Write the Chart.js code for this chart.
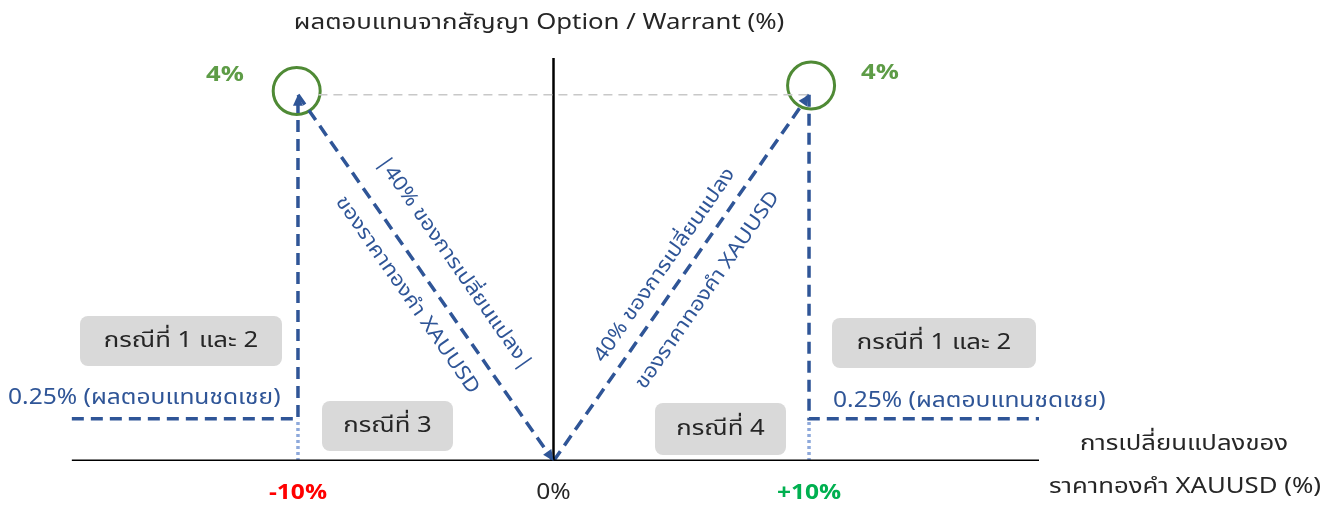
<!DOCTYPE html>
<html><head><meta charset="utf-8">
<script src="https://cdn.jsdelivr.net/npm/chart.js@4/dist/chart.umd.min.js"></script>
<style>html,body{margin:0;padding:0;background:#fff;overflow:hidden}#wrap{width:1344px;height:507px}</style>
</head><body><div id="wrap"><canvas id="c" width="1344" height="507"></canvas></div>
<script>
// ---- data ----
const xTicks = [-10, 0, 10];
const xTickLabels = ['-10%', '0%', '+10%'];
const xTickColors = ['#FF0000', '#262626', '#00B050'];
const capPct = 4;                 // maximum return (4%)
const compLevel = 0.46;           // compensation level as drawn (labelled 0.25%)
const xAxisLine = [{x: -18.85, y: 0}, {x: 19.1, y: 0}];
const yAxisLine = [{x: 0, y: 0}, {x: 0, y: 4.4}];
const capRefLine = [{x: -9.2, y: capPct}, {x: 10, y: capPct}];
const leftPayoff = [{x: -18.85, y: compLevel}, {x: -10, y: compLevel}, {x: -10, y: capPct}];
const leftSlope = [{x: -10, y: capPct}, {x: 0, y: 0}];
const rightSlope = [{x: 0, y: 0}, {x: 10, y: capPct}];
const rightPayoff = [{x: 10, y: capPct}, {x: 10, y: compLevel}, {x: 19.0, y: compLevel}];
const leftDotted = [{x: -10, y: 0}, {x: -10, y: compLevel}];
const rightDotted = [{x: 10, y: 0}, {x: 10, y: compLevel}];
const capMarks = [{x: -10.05, y: 4.04}, {x: 10.08, y: 4.1}];
const capLabels = ['4%', '4%'];
const caseLabels = ['กรณีที่ 1 และ 2', 'กรณีที่ 3', 'กรณีที่ 4', 'กรณีที่ 1 และ 2'];
const compLabel = '0.25% (ผลตอบแทนชดเชย)';
const slopeLine1 = ['|40% ของการเปลี่ยนแปลง|', '40% ของการเปลี่ยนแปลง'];
const slopeLine2 = 'ของราคาทองคำ XAUUSD';
const titleText = 'ผลตอบแทนจากสัญญา Option / Warrant (%)';
const xTitle = ['การเปลี่ยนแปลงของ', 'ราคาทองคำ XAUUSD (%)'];

const FONT = "Tahoma, 'Noto Sans Thai', 'Leelawadee UI', 'Noto Sans', 'DejaVu Sans', sans-serif";
const BLUE = '#2F5597';
const DARK = '#262626';
const SX = 1.17; // horizontal stretch to mimic the wider original typeface

function line(data, color, width, dash) {
  return {data, showLine: true, borderColor: color, borderWidth: width,
    borderDash: dash || [], pointRadius: 0, fill: false, tension: 0};
}

const annotate = {
  id: 'annotate',
  afterDatasetsDraw(chart) {
    const ctx = chart.ctx, xs = chart.scales.x, ys = chart.scales.y;
    const px = v => xs.getPixelForValue(v), py = v => ys.getPixelForValue(v);
    ctx.save();
    function arrow(from, to) {
      const x1 = px(from.x), y1 = py(from.y), x2 = px(to.x), y2 = py(to.y);
      const a = Math.atan2(y2 - y1, x2 - x1), L = 11, W = 5;
      ctx.beginPath();
      ctx.moveTo(x2, y2);
      ctx.lineTo(x2 - L * Math.cos(a) + W * Math.sin(a), y2 - L * Math.sin(a) - W * Math.cos(a));
      ctx.lineTo(x2 - L * Math.cos(a) - W * Math.sin(a), y2 - L * Math.sin(a) + W * Math.cos(a));
      ctx.closePath();
      ctx.fillStyle = BLUE; ctx.fill();
    }
    arrow(leftPayoff[1], leftPayoff[2]);
    arrow(leftSlope[0], leftSlope[1]);
    arrow(rightSlope[0], rightSlope[1]);

    function txt(text, x, y, font, color, align, ang, sx) {
      ctx.save();
      ctx.translate(x, y);
      if (ang) ctx.rotate(ang);
      ctx.scale(sx || SX, 1);
      ctx.font = font + ' ' + FONT;
      ctx.fillStyle = color;
      ctx.textAlign = align || 'center';
      ctx.textBaseline = 'middle';
      ctx.fillText(text, 0, 0);
      ctx.restore();
    }

    txt(titleText, 539, 25, '22px', DARK);
    txt(capLabels[0], 225, 77, 'bold 22px', '#5E9C47');
    txt(capLabels[1], 880, 75, 'bold 22px', '#5E9C47');

    xTicks.forEach((t, i) => {
      txt(xTickLabels[i], px(t), 495, (i === 1 ? '' : 'bold ') + '21px', xTickColors[i]);
    });

    txt(xTitle[0], 1184, 446, '22px', DARK);
    txt(xTitle[1], 1185, 489, '22px', DARK);

    const boxes = [[80, 316, 202, 50], [322, 401, 131, 50], [655, 403, 131, 52], [832, 318, 204, 50]];
    boxes.forEach((b, i) => {
      ctx.fillStyle = '#D9D9D9';
      ctx.beginPath(); ctx.roundRect(b[0], b[1], b[2], b[3], 8); ctx.fill();
      txt(caseLabels[i], b[0] + b[2] / 2, b[1] + b[3] / 2 + 2, '22px', DARK);
    });

    txt(compLabel, 8, 400, '21px', BLUE, 'left');
    txt(compLabel, 833, 403, '21px', BLUE, 'left');

    const aL = Math.atan2(py(leftSlope[1].y) - py(leftSlope[0].y), px(leftSlope[1].x) - px(leftSlope[0].x));
    const aR = Math.atan2(py(rightSlope[1].y) - py(rightSlope[0].y), px(rightSlope[1].x) - px(rightSlope[0].x));
    txt(slopeLine1[0], 453, 264, '20px', BLUE, 'center', aL, 1.12);
    txt(slopeLine2, 406, 296, '20px', BLUE, 'center', aL, 1.12);
    txt(slopeLine1[1], 666, 266, '20px', BLUE, 'center', aR, 1.12);
    txt(slopeLine2, 709, 291, '20px', BLUE, 'center', aR, 1.12);
    ctx.restore();
  }
};

new Chart(document.getElementById('c'), {
  type: 'scatter',
  data: {datasets: [
    line(capRefLine, '#C8C8C8', 1.5, [9, 6]),
    line(xAxisLine, '#000000', 3),
    line(yAxisLine, '#000000', 2.5),
    line(leftDotted, '#8EA9DB', 3.5, [3, 3]),
    line(rightDotted, '#8EA9DB', 3.5, [3, 3]),
    line(leftPayoff, BLUE, 3.5, [12, 7]),
    line(leftSlope, BLUE, 3.5, [12, 7]),
    line(rightSlope, BLUE, 3.5, [12, 7]),
    line(rightPayoff, BLUE, 3.5, [12, 7]),
    {data: capMarks, showLine: false, pointRadius: 23.5, pointHoverRadius: 23.5,
     pointBorderColor: '#4F8A35', pointBackgroundColor: 'rgba(0,0,0,0)', pointBorderWidth: 3}
  ]},
  options: {
    responsive: false, animation: false,
    layout: {padding: {left: 68, right: 305, top: 58, bottom: 46}},
    plugins: {legend: {display: false}, tooltip: {enabled: false}},
    scales: {
      x: {type: 'linear', min: -19, max: 19, display: false},
      y: {type: 'linear', min: 0, max: 4.4, display: false}
    }
  },
  plugins: [annotate]
});
</script></body></html>
